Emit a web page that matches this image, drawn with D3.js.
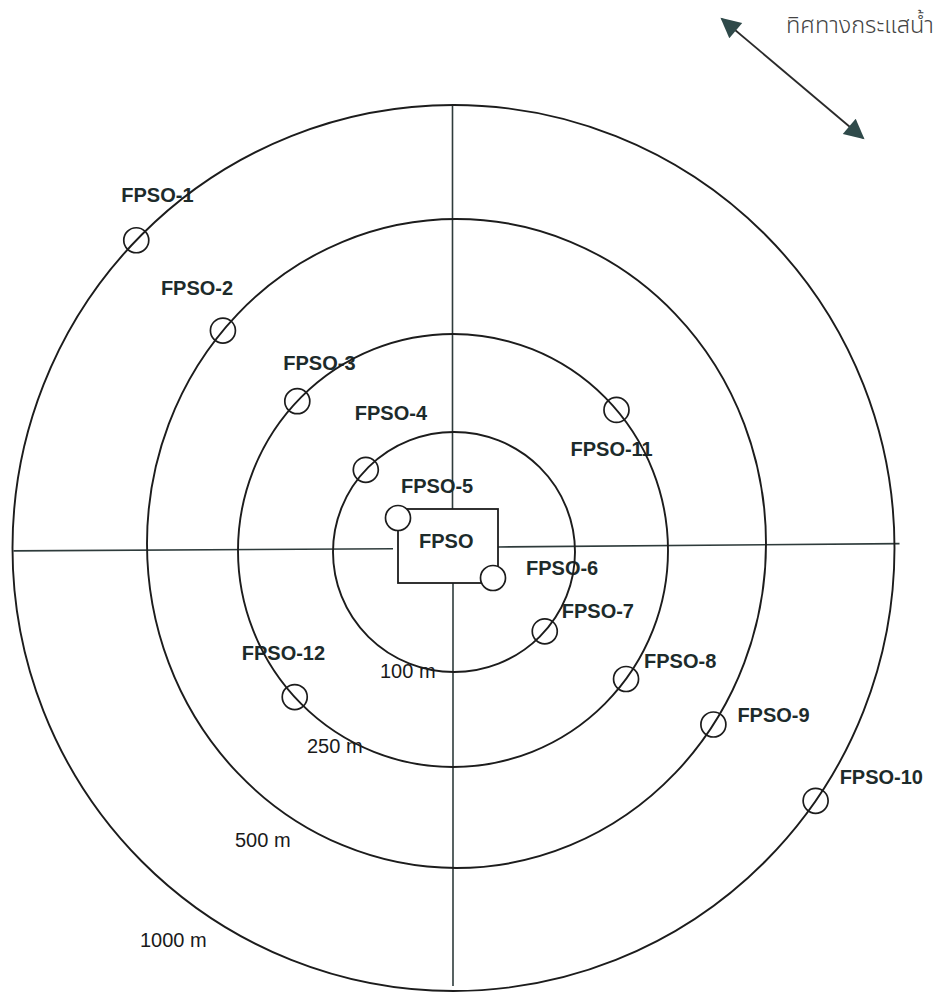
<!DOCTYPE html>
<html>
<head>
<meta charset="utf-8">
<script src="https://cdn.jsdelivr.net/npm/d3@7/dist/d3.min.js"></script>
<style>
  html, body { margin: 0; padding: 0; background: #fff; }
  svg { display: block; }
</style>
</head>
<body>
<svg id="chart" width="938" height="994"></svg>
<script>
// ---------------- data ----------------
const ringDistances = [100, 250, 500, 1000];           // metres
const ringLabels = ["100 m", "250 m", "500 m", "1000 m"];
const markerNames = ["FPSO-1","FPSO-2","FPSO-3","FPSO-4","FPSO-5","FPSO-6",
                     "FPSO-7","FPSO-8","FPSO-9","FPSO-10","FPSO-11","FPSO-12"];
const markerRing  = [1000, 500, 250, 100, 0, 0, 100, 250, 500, 1000, 250, 250]; // 0 = on the FPSO hull
const markerAngle = [136, 139, 136.4, 136.8, 135, -45, -41.4, -36.4, -33.9, -34.8, 40.5, 222.6]; // degrees, CCW from east
const centreLabel = "FPSO";
const currentLabel = "ทิศทางกระแสน้ำ";

// ---------------- layout ----------------
const svg = d3.select("#chart");
// hand-drawn rings are slightly uneven: per-ring radii / centre
const rx = d3.scaleOrdinal().domain(ringDistances).range([121, 215, 309.5, 441]);
const ry = d3.scaleOrdinal().domain(ringDistances).range([120, 216.5, 324.5, 443]);
const cxS = d3.scaleOrdinal().domain(ringDistances).range([454, 453, 456.5, 453.5]);
const cyS = d3.scaleOrdinal().domain(ringDistances).range([552, 550.5, 543.5, 548]);
const labelPos = d3.scaleOrdinal().domain(ringLabels).range([[380,678],[307,753],[235,847],[140,947]]);

const ink = "#1c1c1c";
const labelInk = "#1d2b2b";
const box = {x: 398, y: 509, w: 100, h: 74};

// rings
svg.selectAll("ellipse.ring").data(ringDistances).join("ellipse")
  .attr("class","ring")
  .attr("cx", d => cxS(d)).attr("cy", d => cyS(d))
  .attr("rx", d => rx(d)).attr("ry", d => ry(d))
  .attr("fill","none").attr("stroke", ink).attr("stroke-width", 1.9);

// cross lines (broken by the FPSO hull)
const outer = 1000;
const vx = 452.5;
const lineStroke = "#2e3b3b";
svg.append("line").attr("x1", vx).attr("x2", vx)
  .attr("y1", cyS(outer) - ry(outer)).attr("y2", box.y)
  .attr("stroke", lineStroke).attr("stroke-width", 1.6);
svg.append("line").attr("x1", vx + 0.5).attr("x2", vx + 0.5)
  .attr("y1", box.y + box.h).attr("y2", cyS(outer) + ry(outer) - 5)
  .attr("stroke", lineStroke).attr("stroke-width", 1.6);
const hy = x => 547.3 - 0.0082 * (x - 453);
const hl = cxS(outer) - rx(outer) + 1, hr = cxS(outer) + rx(outer) + 5;
svg.append("line").attr("x1", hl).attr("y1", hy(hl)).attr("x2", box.x - 5).attr("y2", hy(box.x - 5) + 1)
  .attr("stroke", lineStroke).attr("stroke-width", 1.6);
svg.append("line").attr("x1", box.x + box.w).attr("y1", hy(box.x + box.w)).attr("x2", hr).attr("y2", hy(hr))
  .attr("stroke", lineStroke).attr("stroke-width", 1.6);

// FPSO hull box
svg.append("rect").attr("x", box.x).attr("y", box.y).attr("width", box.w).attr("height", box.h)
  .attr("fill", "none").attr("stroke", ink).attr("stroke-width", 1.8);
svg.append("text").attr("x", box.x + 21).attr("y", box.y + 39)
  .attr("font-family", "Liberation Sans, Arial, sans-serif").attr("font-weight", "bold")
  .attr("font-size", 20).attr("fill", labelInk).text(centreLabel);

// ring labels
svg.selectAll("text.ringlabel").data(ringLabels).join("text")
  .attr("class","ringlabel")
  .attr("x", d => labelPos(d)[0]).attr("y", d => labelPos(d)[1])
  .attr("font-family", "Liberation Sans, Arial, sans-serif")
  .attr("font-size", 20).attr("fill", "#1a1a1a").text(d => d);

// markers
const markers = markerNames.map((n, i) => ({name: n, ring: markerRing[i], angle: markerAngle[i]}));
const rad = a => a * Math.PI / 180;
function pos(m, i) {
  if (m.ring === 0) {
    // sitting on the hull corners
    return m.angle > 90 ? [box.x, box.y + 9] : [box.x + box.w - 5, box.y + box.h - 5];
  }
  return [cxS(m.ring) + rx(m.ring) * Math.cos(rad(m.angle)),
          cyS(m.ring) - ry(m.ring) * Math.sin(rad(m.angle))];
}
const labelOffset = [[-15,-38],[-62,-36],[-14,-31],[-11,-50],[3,-25],[33,-3],
                     [17,-13],[18,-11],[24,-2],[24,-17],[-46,46],[-53,-37]];

const g = svg.selectAll("g.marker").data(markers).join("g").attr("class","marker");
g.each(function(m, i) {
  const [x, y] = pos(m, i);
  const sel = d3.select(this);
  sel.append("text").attr("x", x + labelOffset[i][0]).attr("y", y + labelOffset[i][1])
    .attr("font-family", "Liberation Sans, Arial, sans-serif").attr("font-weight", "bold")
    .attr("font-size", 20).attr("fill", labelInk).text(m.name);
  sel.append("circle").attr("cx", x).attr("cy", y).attr("r", 12.5)
    .attr("fill", "#fff").attr("stroke", ink).attr("stroke-width", 1.7);
});
svg.selectAll("ellipse.ring").raise();
svg.selectAll("g.marker circle").raise();

// current direction arrow
const defs = svg.append("defs");
defs.append("marker").attr("id","ah").attr("viewBox","0 0 10 10")
  .attr("refX", 9).attr("refY", 5)
  .attr("markerUnits","userSpaceOnUse").attr("orient","auto-start-reverse")
  .attr("markerWidth", 24).attr("markerHeight", 20)
  .append("path").attr("d","M0,0 L10,5 L0,10 Z").attr("fill", "#2f4a4a");
svg.append("line").attr("x1", 722).attr("y1", 19).attr("x2", 863).attr("y2", 138)
  .attr("stroke", "#2a2a2a").attr("stroke-width", 1.8)
  .attr("marker-start","url(#ah)").attr("marker-end","url(#ah)");
svg.append("text").attr("x", 786).attr("y", 33)
  .attr("font-family", "Noto Sans Thai, Noto Sans, DejaVu Sans, sans-serif")
  .attr("font-weight", 300).attr("font-size", 23.5).attr("fill", "#444").text(currentLabel);
</script>
</body>
</html>
